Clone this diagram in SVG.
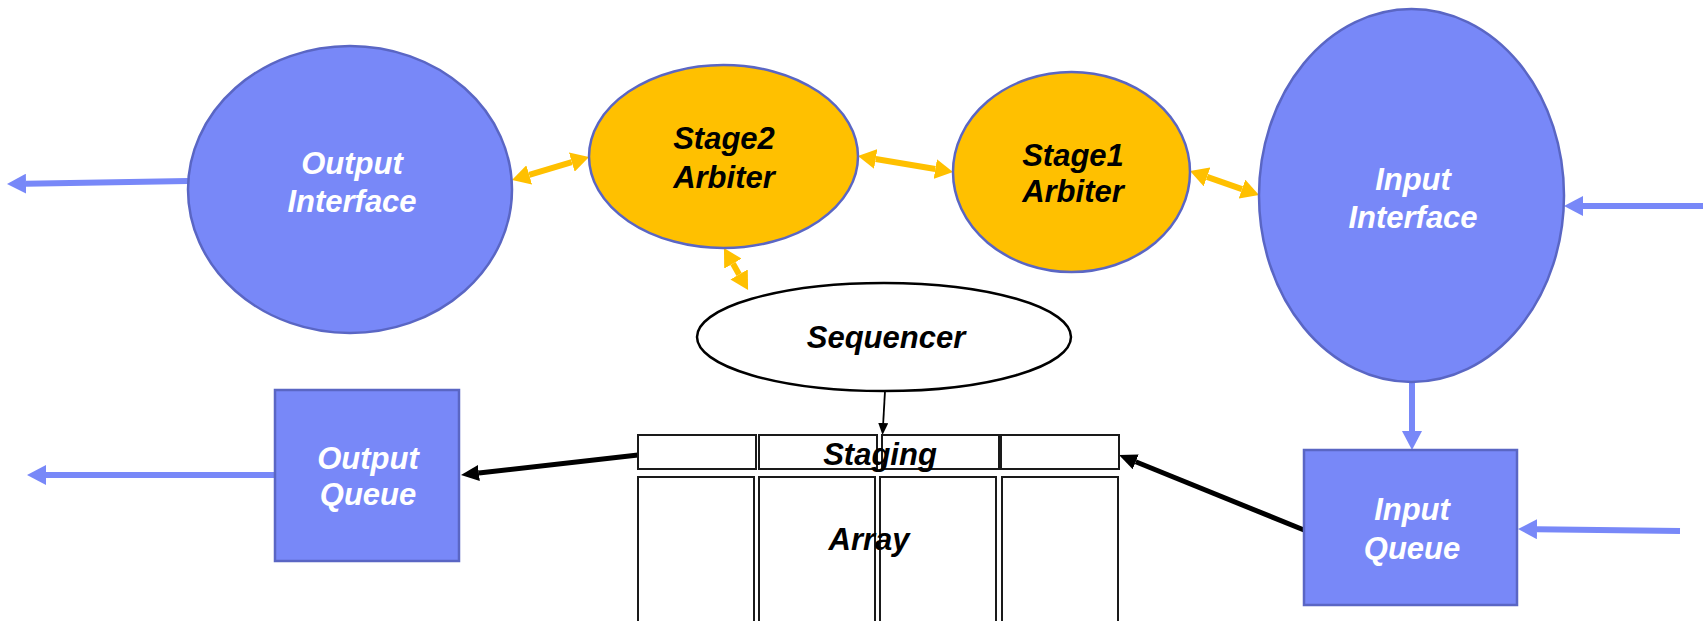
<svg xmlns="http://www.w3.org/2000/svg" width="1703" height="621" viewBox="0 0 1703 621">
  <style>
    .blue { fill: #7888F8; stroke: #5A66C4; stroke-width: 2.5; }
    .gold { fill: #FFC000; stroke: #5A66C4; stroke-width: 2.5; }
    .plain { fill: #FFFFFF; stroke: #000000; stroke-width: 2.5; }
    .cell { fill: #FFFFFF; stroke: #1A1A1A; stroke-width: 2; }
    .lbl { font-family: "Liberation Sans", Arial, sans-serif; font-weight: bold; font-style: italic; font-size: 31px; text-anchor: middle; }
    .w { fill: #FFFFFF; }
    .k { fill: #000000; }
    .link-blue { stroke: #7888F8; stroke-width: 6; fill: none; marker-end: url(#headBlue); }
    .link-gold { stroke: #FFC000; stroke-width: 6; fill: none; marker-start: url(#headGold); marker-end: url(#headGold); }
    .link-black { stroke: #000000; stroke-width: 5; fill: none; marker-end: url(#headBlack); }
    .link-thin { stroke: #000000; stroke-width: 1.8; fill: none; marker-end: url(#headThin); }
  </style>
  <defs>
    <marker id="headBlue" markerUnits="userSpaceOnUse" viewBox="0 0 19 20" refX="0" refY="10" markerWidth="19" markerHeight="20" orient="auto">
      <path d="M0,0 L19,10 L0,20 z" fill="#7888F8"/>
    </marker>
    <marker id="headGold" markerUnits="userSpaceOnUse" viewBox="0 0 18 20" refX="0" refY="10" markerWidth="18" markerHeight="20" orient="auto-start-reverse">
      <path d="M0,0 L18,10 L0,20 z" fill="#FFC000"/>
    </marker>
    <marker id="headBlack" markerUnits="userSpaceOnUse" viewBox="0 0 18 16" refX="0" refY="8" markerWidth="18" markerHeight="16" orient="auto">
      <path d="M0,0 L18,8 L0,16 z" fill="#000000"/>
    </marker>
    <marker id="headThin" markerUnits="userSpaceOnUse" viewBox="0 0 12 10" refX="0" refY="5" markerWidth="12" markerHeight="10" orient="auto">
      <path d="M0,0 L12,5 L0,10 z" fill="#000000"/>
    </marker>
  </defs>

  <!-- connectors -->
  <g id="connectors">
    <line class="link-blue" x1="188" y1="181" x2="26" y2="183.7"/>
    <line class="link-blue" x1="1703" y1="206" x2="1583" y2="206"/>
    <line class="link-blue" x1="1412" y1="382" x2="1412" y2="431"/>
    <line class="link-blue" x1="275" y1="475" x2="46" y2="475"/>
    <line class="link-blue" x1="1680" y1="531" x2="1537" y2="529.2"/>
    <line class="link-gold" x1="529.2" y1="174.9" x2="571.8" y2="162.1"/>
    <line class="link-gold" x1="732.9" y1="263.6" x2="739.1" y2="274.4"/>
    <line class="link-gold" x1="875.7" y1="159" x2="935.3" y2="169"/>
    <line class="link-gold" x1="1207" y1="176.9" x2="1242" y2="189.1"/>
    <line class="link-black" x1="638" y1="455" x2="478.9" y2="473"/>
    <line class="link-black" x1="1304" y1="530" x2="1135.7" y2="461.8"/>
    <line class="link-thin" x1="885" y1="391" x2="883.2" y2="423"/>
  </g>

  <g id="output-interface">
    <ellipse class="blue" cx="350" cy="189.5" rx="162" ry="143.5"/>
    <text class="lbl w" x="352" y="174">Output</text>
    <text class="lbl w" x="352" y="212">Interface</text>
  </g>

  <g id="stage2-arbiter">
    <ellipse class="gold" cx="723.5" cy="156.5" rx="134.5" ry="91.5"/>
    <text class="lbl k" x="724" y="149">Stage2</text>
    <text class="lbl k" x="724" y="188">Arbiter</text>
  </g>

  <g id="stage1-arbiter">
    <ellipse class="gold" cx="1071.5" cy="172" rx="118.5" ry="100"/>
    <text class="lbl k" x="1073" y="166">Stage1</text>
    <text class="lbl k" x="1073" y="202">Arbiter</text>
  </g>

  <g id="input-interface">
    <ellipse class="blue" cx="1411.5" cy="195.5" rx="152.5" ry="186.5"/>
    <text class="lbl w" x="1413" y="190">Input</text>
    <text class="lbl w" x="1413" y="228">Interface</text>
  </g>

  <g id="sequencer">
    <ellipse class="plain" cx="884" cy="337" rx="187" ry="54"/>
    <text class="lbl k" x="886" y="348">Sequencer</text>
  </g>

  <g id="output-queue">
    <rect class="blue" x="275" y="390" width="184" height="171"/>
    <text class="lbl w" x="368" y="469">Output</text>
    <text class="lbl w" x="368" y="505">Queue</text>
  </g>

  <g id="input-queue">
    <rect class="blue" x="1304" y="450" width="213" height="155"/>
    <text class="lbl w" x="1412" y="520">Input</text>
    <text class="lbl w" x="1412" y="559">Queue</text>
  </g>

  <g id="staging-array">
    <rect class="cell" x="638" y="435" width="118" height="34"/>
    <rect class="cell" x="759" y="435" width="118" height="34"/>
    <rect class="cell" x="882" y="435" width="117" height="34"/>
    <rect class="cell" x="1001" y="435" width="118" height="34"/>
    <rect class="cell" x="638" y="477" width="116" height="150"/>
    <rect class="cell" x="759" y="477" width="116" height="150"/>
    <rect class="cell" x="880" y="477" width="116" height="150"/>
    <rect class="cell" x="1002" y="477" width="116" height="150"/>
    <text class="lbl k" x="880" y="465">Staging</text>
    <text class="lbl k" x="869" y="550">Array</text>
  </g>
</svg>
